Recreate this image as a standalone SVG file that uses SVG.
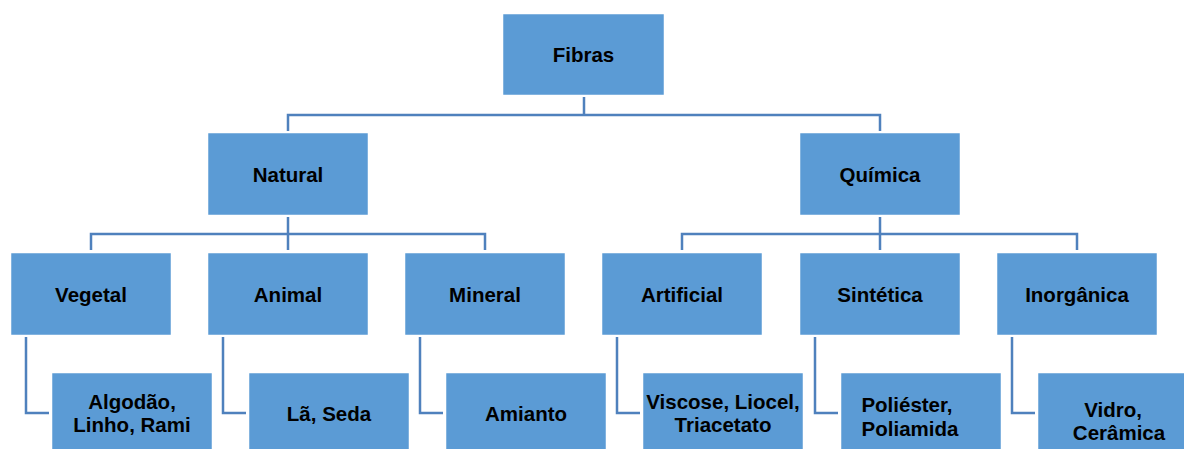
<svg xmlns="http://www.w3.org/2000/svg" width="1184" height="449" viewBox="0 0 1184 449">
<style>
.box{fill:#5B9BD5;stroke:#ffffff;stroke-width:0.5}
.t{font-family:"Liberation Sans",Arial,sans-serif;font-weight:bold;font-size:20.5px;fill:#000;text-anchor:middle}
.c{fill:none;stroke:#4F81BD;stroke-width:2.5}
</style>
<rect width="1184" height="449" fill="#ffffff"/>
<g id="connectors">
<path class="c" d="M584 97V115M288 131V115H880V131"/>
<path class="c" d="M288 217V234M91 250V234H485V250M288 234V250"/>
<path class="c" d="M880 217V234M682 250V234H1077V250M880 234V250"/>
<path class="c" d="M26 337V413H49M223 337V413H246M420 337V413H443M617 337V413H640M815 337V413H838M1012 337V413H1035"/>
</g>
<g id="fibras"><rect class="box" x="503" y="14" width="161" height="81"/><text class="t" x="583.5" y="62">Fibras</text></g>
<g id="natural"><rect class="box" x="208" y="133" width="160" height="82"/><text class="t" x="288" y="181.5">Natural</text></g>
<g id="quimica"><rect class="box" x="800" y="133" width="160" height="82"/><text class="t" x="880" y="181.5">Química</text></g>
<g id="vegetal"><rect class="box" x="11" y="253" width="160" height="82"/><text class="t" x="91" y="301.5">Vegetal</text></g>
<g id="animal"><rect class="box" x="208" y="253" width="160" height="82"/><text class="t" x="288" y="301.5">Animal</text></g>
<g id="mineral"><rect class="box" x="405" y="253" width="160" height="82"/><text class="t" x="485" y="301.5">Mineral</text></g>
<g id="artificial"><rect class="box" x="602" y="253" width="160" height="82"/><text class="t" x="682" y="301.5">Artificial</text></g>
<g id="sintetica"><rect class="box" x="800" y="253" width="160" height="82"/><text class="t" x="880" y="301.5">Sintética</text></g>
<g id="inorganica"><rect class="box" x="997" y="253" width="160" height="82"/><text class="t" x="1077" y="301.5">Inorgânica</text></g>
<g id="algodao"><rect class="box" x="52" y="373" width="160" height="80"/><text class="t" x="132" y="409">Algodão,</text><text class="t" x="132" y="432">Linho, Rami</text></g>
<g id="la-seda"><rect class="box" x="249" y="373" width="160" height="80"/><text class="t" x="329" y="420.5">Lã, Seda</text></g>
<g id="amianto"><rect class="box" x="446" y="373" width="160" height="80"/><text class="t" x="526" y="420.5">Amianto</text></g>
<g id="viscose"><rect class="box" x="643" y="373" width="160" height="80"/><text class="t" x="723" y="409">Viscose, Liocel,</text><text class="t" x="723" y="432">Triacetato</text></g>
<g id="poliester"><rect class="box" x="841" y="373" width="160" height="80"/><text class="t" x="907" y="412">Poliéster,</text><text class="t" x="910" y="436">Poliamida</text></g>
<g id="vidro"><rect class="box" x="1038" y="373" width="160" height="80"/><text class="t" x="1113" y="417">Vidro,</text><text class="t" x="1119" y="440">Cerâmica</text></g>
</svg>
